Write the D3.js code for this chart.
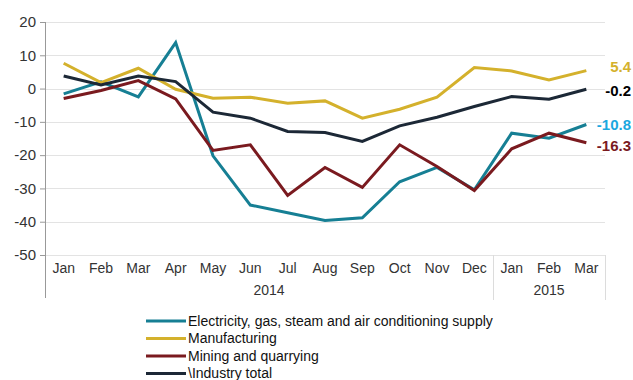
<!DOCTYPE html>
<html>
<head>
<meta charset="utf-8">
<script src="https://cdn.jsdelivr.net/npm/d3@7"></script>
<style>
  html, body { margin: 0; padding: 0; background: #fff; }
  svg { display: block; font-family: "Liberation Sans", Arial, sans-serif; }
</style>
</head>
<body>
<svg id="chart" width="633" height="380"></svg>
<script>
// Monthly change (%) by industry, Jan 2014 – Mar 2015
const months = ["Jan","Feb","Mar","Apr","May","Jun","Jul","Aug","Sep","Oct","Nov","Dec","Jan","Feb","Mar"];
const years = [{label: "2014", from: 0, to: 11}, {label: "2015", from: 12, to: 14}];

const electricity   = [-1.6, 2.0, -2.5, 13.8, -20.2, -35.0, -37.3, -39.6, -38.8, -28.0, -23.7, -30.4, -13.4, -14.9, -10.8];
const manufacturing = [7.6, 1.8, 6.1, -0.2, -2.9, -2.6, -4.4, -3.7, -8.9, -6.2, -2.6, 6.3, 5.3, 2.6, 5.4];
const mining        = [-3.0, -0.6, 2.4, -3.1, -18.6, -16.9, -32.1, -23.7, -29.7, -16.9, -23.4, -30.6, -18.1, -13.4, -16.3];
const industryTotal = [3.8, 1.1, 3.8, 2.1, -7.1, -8.9, -12.9, -13.2, -15.9, -11.2, -8.6, -5.4, -2.4, -3.2, -0.2];

const yTicks = [20, 10, 0, -10, -20, -30, -40, -50];

const series = [
  {name: "Electricity, gas, steam and air conditioning supply", values: electricity,   color: "#167f94", labelColor: "#1aa8e0", labelDy: 0},
  {name: "Manufacturing",                                       values: manufacturing, color: "#d4b12c", labelColor: "#d4b12c", labelDy: -4},
  {name: "Mining and quarrying",                                values: mining,        color: "#7a1a1f", labelColor: "#7a1a1f", labelDy: 3},
  {name: "\\Industry total",                                    values: industryTotal, color: "#1c2836", labelColor: "#000000", labelDy: 2}
];

// plain hyphen for negative numbers
const fmtInt = d => String(d);
const fmtOne = d => d.toFixed(1);

const svg = d3.select("#chart");
const plotLeft = 45, plotRight = 605, plotTop = 22, plotBottom = 255;

const x = d3.scaleBand().domain(d3.range(months.length)).range([plotLeft, plotRight]);
const y = d3.scaleLinear().domain([-50, 20]).range([plotBottom, plotTop]);
const cx = i => x(i) + x.bandwidth() / 2;

// Horizontal gridlines
svg.append("g")
  .selectAll("line")
  .data(yTicks)
  .join("line")
  .attr("x1", plotLeft).attr("x2", plotRight)
  .attr("y1", d => Math.round(y(d)) + 0.5).attr("y2", d => Math.round(y(d)) + 0.5)
  .attr("stroke", "#e3e3e3").attr("stroke-width", 1);

// Y axis
const yAxis = svg.append("g")
  .attr("transform", `translate(${plotLeft},0)`)
  .call(d3.axisLeft(y).tickValues(yTicks).tickFormat(fmtInt).tickSize(5).tickPadding(4));
yAxis.select(".domain").remove();
yAxis.selectAll(".tick line").attr("stroke", "#999");
yAxis.selectAll(".tick text")
  .attr("font-size", 15).attr("fill", "#333")
  .attr("font-family", "Liberation Sans, Arial, sans-serif");
svg.append("line")
  .attr("x1", plotLeft + 0.5).attr("x2", plotLeft + 0.5)
  .attr("y1", plotTop).attr("y2", 298)
  .attr("stroke", "#999");

// Month labels
svg.append("g")
  .selectAll("text")
  .data(months)
  .join("text")
  .attr("x", (d, i) => cx(i))
  .attr("y", 273)
  .attr("text-anchor", "middle")
  .attr("font-size", 14).attr("fill", "#333")
  .text(d => d);

// Year groups with separators
years.forEach(g => {
  const x0 = x(g.from), x1 = x(g.to) + x.bandwidth();
  svg.append("text")
    .attr("x", (x0 + x1) / 2).attr("y", 295)
    .attr("text-anchor", "middle")
    .attr("font-size", 14).attr("fill", "#333")
    .text(g.label);
  svg.append("line")
    .attr("x1", Math.round(x1) + 0.5).attr("x2", Math.round(x1) + 0.5)
    .attr("y1", plotBottom).attr("y2", 300)
    .attr("stroke", "#dcdcdc");
});

// Lines
const line = d3.line().x((d, i) => cx(i)).y(d => y(d));
svg.append("g")
  .selectAll("path")
  .data(series)
  .join("path")
  .attr("d", s => line(s.values))
  .attr("fill", "none")
  .attr("stroke", s => s.color)
  .attr("stroke-width", 3)
  .attr("stroke-linejoin", "miter");

// End-value labels
svg.append("g")
  .selectAll("text")
  .data(series)
  .join("text")
  .attr("x", 631)
  .attr("y", s => y(s.values[s.values.length - 1]) + s.labelDy)
  .attr("dy", "0.35em")
  .attr("text-anchor", "end")
  .attr("font-size", 15).attr("font-weight", "bold")
  .attr("fill", s => s.labelColor)
  .text(s => fmtOne(s.values[s.values.length - 1]));

// Legend
const legend = svg.append("g")
  .selectAll("g")
  .data(series)
  .join("g")
  .attr("transform", (d, i) => `translate(146,${321 + i * 17.5})`);
legend.append("line")
  .attr("x1", 0).attr("x2", 40)
  .attr("stroke", d => d.color).attr("stroke-width", 3);
legend.append("text")
  .attr("x", 42).attr("dy", "0.35em")
  .attr("font-size", 14).attr("fill", "#111")
  .text(d => d.name);
</script>
</body>
</html>
